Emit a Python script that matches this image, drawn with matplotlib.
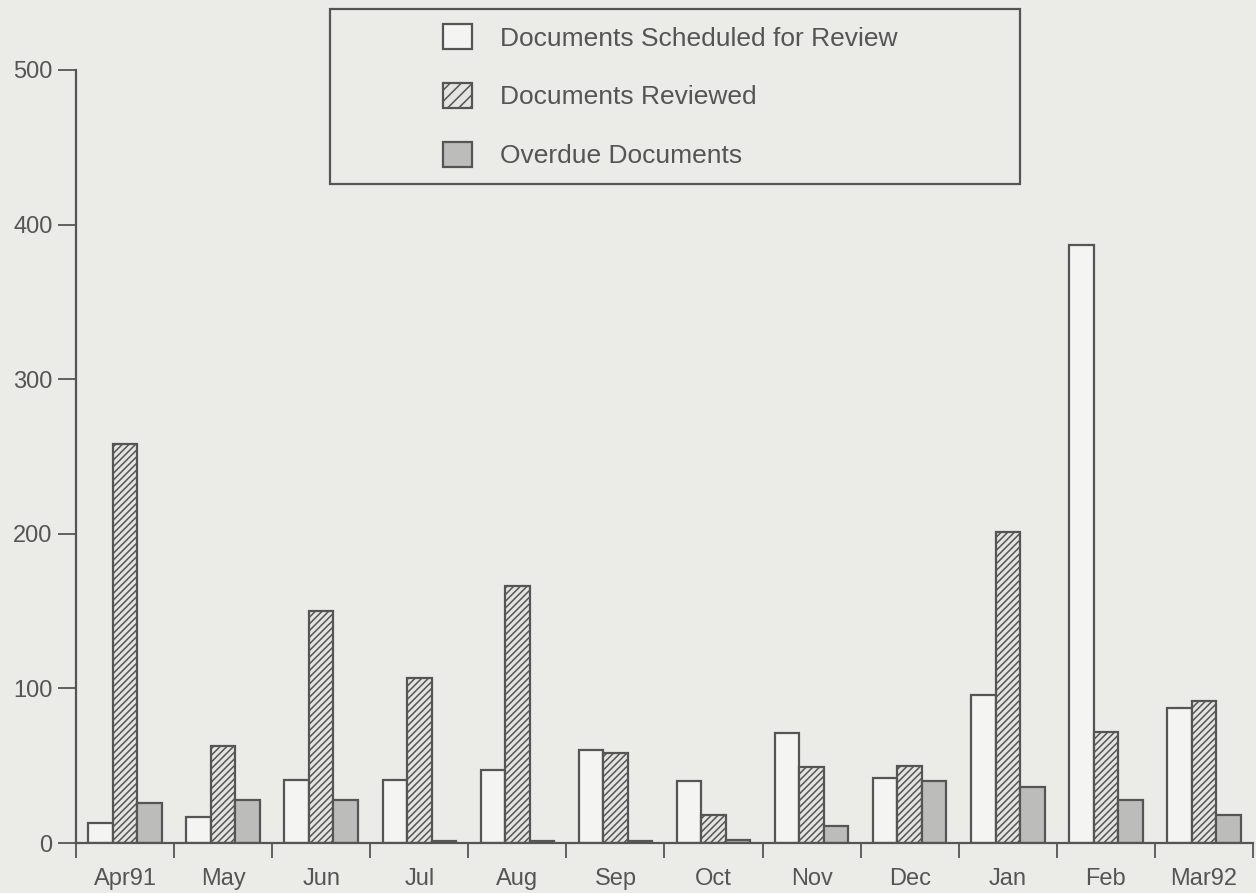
import numpy as np
import matplotlib.pyplot as plt
from matplotlib.patches import Patch, Rectangle

plt.rcParams['font.family'] = ['Liberation Sans', 'DejaVu Sans']
plt.rcParams['hatch.linewidth'] = 1.1
plt.rcParams['hatch.color'] = '#666666'

months = ['Apr91', 'May', 'Jun', 'Jul', 'Aug', 'Sep', 'Oct', 'Nov', 'Dec', 'Jan', 'Feb', 'Mar92']
scheduled = [13, 17, 41, 41, 47, 60, 40, 71, 42, 96, 387, 87]
reviewed = [258, 63, 150, 107, 166, 58, 18, 49, 50, 201, 72, 92]
overdue = [26, 28, 28, 1, 1, 1, 2, 11, 40, 36, 28, 18]
labels = ['Documents Scheduled for Review', 'Documents Reviewed', 'Overdue Documents']

bg = '#ebebe8'
ink = '#555555'

fig = plt.figure(figsize=(12.56, 8.93), dpi=100, facecolor=bg)
ax = fig.add_axes([76/1256, 1-843/893, (1253-76)/1256, (843-70)/893])
ax.set_facecolor(bg)

x = np.arange(len(months))
w = 0.25
ax.bar(x - w, scheduled, w, color='#f4f4f2', edgecolor=ink, linewidth=1.6)
ax.bar(x, reviewed, w, color='#e4e4e1', edgecolor=ink, linewidth=1.6, hatch='/////')
ax.bar(x + w, overdue, w, color='#bcbcba', edgecolor=ink, linewidth=1.6)

ax.set_xlim(-0.5, 11.5)
ax.set_ylim(0, 500)
ax.set_yticks([0, 100, 200, 300, 400, 500])
ax.set_xticks(x)
ax.set_xticklabels(months)
ax.set_xticks(np.arange(-0.5, 12, 1), minor=True)
ax.tick_params(axis='x', which='major', length=0, pad=18, labelsize=17, labelcolor=ink)
ax.tick_params(axis='x', which='minor', length=11, width=1.3, color=ink, direction='out')
ax.tick_params(axis='y', length=13, width=1.3, color=ink, labelsize=17, labelcolor=ink, pad=4)

for s in ['top', 'right']:
    ax.spines[s].set_visible(False)
for s in ['left', 'bottom']:
    ax.spines[s].set_color(ink)
    ax.spines[s].set_linewidth(1.6)

handles = [Patch(facecolor='#f4f4f2', edgecolor=ink, linewidth=1.6),
           Patch(facecolor='#e4e4e1', edgecolor=ink, linewidth=1.6, hatch='///'),
           Patch(facecolor='#bcbcba', edgecolor=ink, linewidth=1.6)]
leg = fig.legend(handles, labels, loc='upper left', bbox_to_anchor=(443/1256, 1-24/893),
                 frameon=False, fontsize=19, handlelength=1.1, handleheight=1.1,
                 handletextpad=1.05, labelspacing=1.22, borderpad=0, borderaxespad=0)
for t in leg.get_texts():
    t.set_color(ink)

fig.patches.append(Rectangle((330/1256, 1-184/893), 690/1256, 175/893,
                             transform=fig.transFigure, fill=False,
                             edgecolor=ink, linewidth=1.6))

fig.savefig('out.png', dpi=100, facecolor=bg)
